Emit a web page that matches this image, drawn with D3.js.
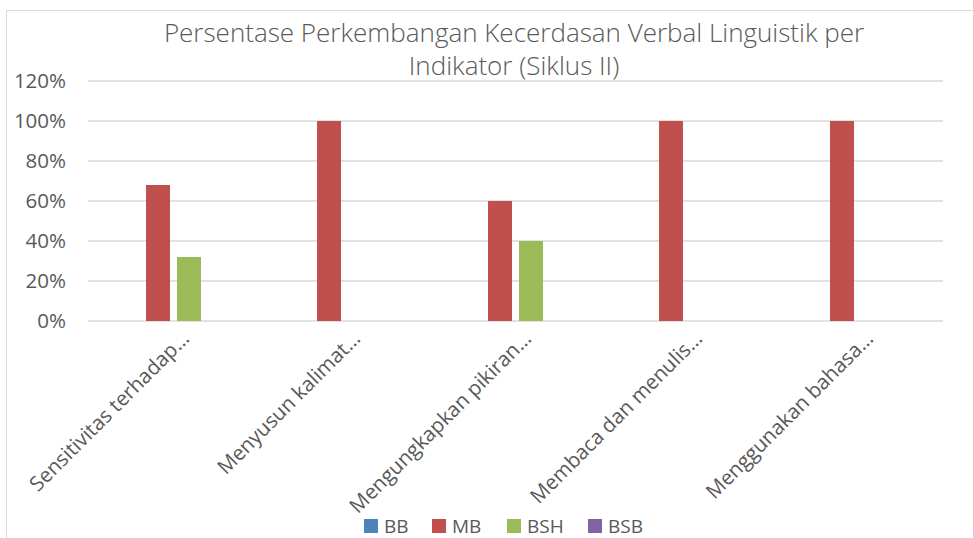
<!DOCTYPE html>
<html><head><meta charset="utf-8">
<script src="https://cdn.jsdelivr.net/npm/d3@7"></script>
<style>
body{margin:0;background:#fff;}
svg text{font-family:"Open Sans",sans-serif;fill:#595959;}
</style></head>
<body>
<svg id="chart" width="973" height="538"></svg>
<script>
const categories = ["Sensitivitas terhadap…","Menyusun kalimat…","Mengungkapkan pikiran…","Membaca dan menulis…","Menggunakan bahasa…"];
const seriesNames = ["BB","MB","BSH","BSB"];
const BB  = [0,0,0,0,0];
const MB  = [0.68,1.00,0.60,1.00,1.00];
const BSH = [0.32,0,0.40,0,0];
const BSB = [0,0,0,0,0];
const yTicks = [0,0.2,0.4,0.6,0.8,1.0,1.2];
const titleLines = ["Persentase Perkembangan Kecerdasan Verbal Linguistik per","Indikator (Siklus II)"];
const colors = ["#4f81bd","#c0504d","#9bbb59","#8064a2"];

(function(){
const seriesData = [BB,MB,BSH,BSB];
const svg = d3.select("#chart");

svg.append("rect").attr("x",6.5).attr("y",10.5).attr("width",980).attr("height",540)
  .attr("fill","none").attr("stroke","#d9d9d9").attr("stroke-width",1);

const pL=88,pR=943,pT=81,pB=321;
const x0 = d3.scaleBand().domain(categories).range([pL,pR]).paddingInner(0.316).paddingOuter(0.158);
const x1 = d3.scaleBand().domain(seriesNames).range([0,x0.bandwidth()]).paddingInner(0.226);
const y = d3.scaleLinear().domain([0,1.2]).range([pB,pT]);

svg.append("g").selectAll("line").data(yTicks).join("line")
  .attr("x1",pL).attr("x2",pR)
  .attr("y1",d=>y(d)).attr("y2",d=>y(d))
  .attr("stroke","#d9d9d9").attr("stroke-width",1.3);

const yAxis = d3.axisLeft(y).tickValues(yTicks).tickFormat(d3.format(".0%")).tickSize(0).tickPadding(0);
const yg = svg.append("g").attr("transform",`translate(66,0)`).call(yAxis);
yg.select(".domain").remove();
yg.selectAll("text").style("font-family","Open Sans").style("font-size","20.5px").attr("fill","#595959");

const groups = svg.append("g").selectAll("g").data(categories).join("g")
  .attr("transform",d=>`translate(${x0(d)},0)`);
groups.selectAll("rect").data((c,i)=>seriesNames.map((s,j)=>({s,v:seriesData[j][i],j})))
  .join("rect")
  .attr("x",d=>x1(d.s)).attr("width",x1.bandwidth())
  .attr("y",d=>y(d.v)).attr("height",d=>y(0)-y(d.v))
  .attr("fill",d=>colors[d.j]);

const xAxis = d3.axisBottom(x0).tickSize(0).tickPadding(0);
const xg = svg.append("g").attr("transform",`translate(0,${pB})`).call(xAxis);
xg.select(".domain").remove();
xg.selectAll("text")
  .style("font-family","Open Sans").style("font-size","20.5px").attr("fill","#595959")
  .attr("text-anchor","end").attr("dy",null).attr("y",0)
  .attr("transform","translate(17,19) rotate(-45)");

const title = svg.append("g");
titleLines.forEach((t,i)=>{
  title.append("text").attr("x",514).attr("y",42+i*33).attr("text-anchor","middle")
    .style("font-family","Open Sans").style("font-size","26px").style("font-weight","300")
    .attr("fill","#595959").text(t);
});

const legX=[364,432,507,588];
const leg = svg.append("g");
seriesNames.forEach((s,i)=>{
  leg.append("rect").attr("x",legX[i]).attr("y",519).attr("width",14).attr("height",14).attr("fill",colors[i]);
  leg.append("text").attr("x",legX[i]+20).attr("y",533).style("font-size","19px").attr("fill","#595959").text(s);
});
})();
</script>
</body></html>
